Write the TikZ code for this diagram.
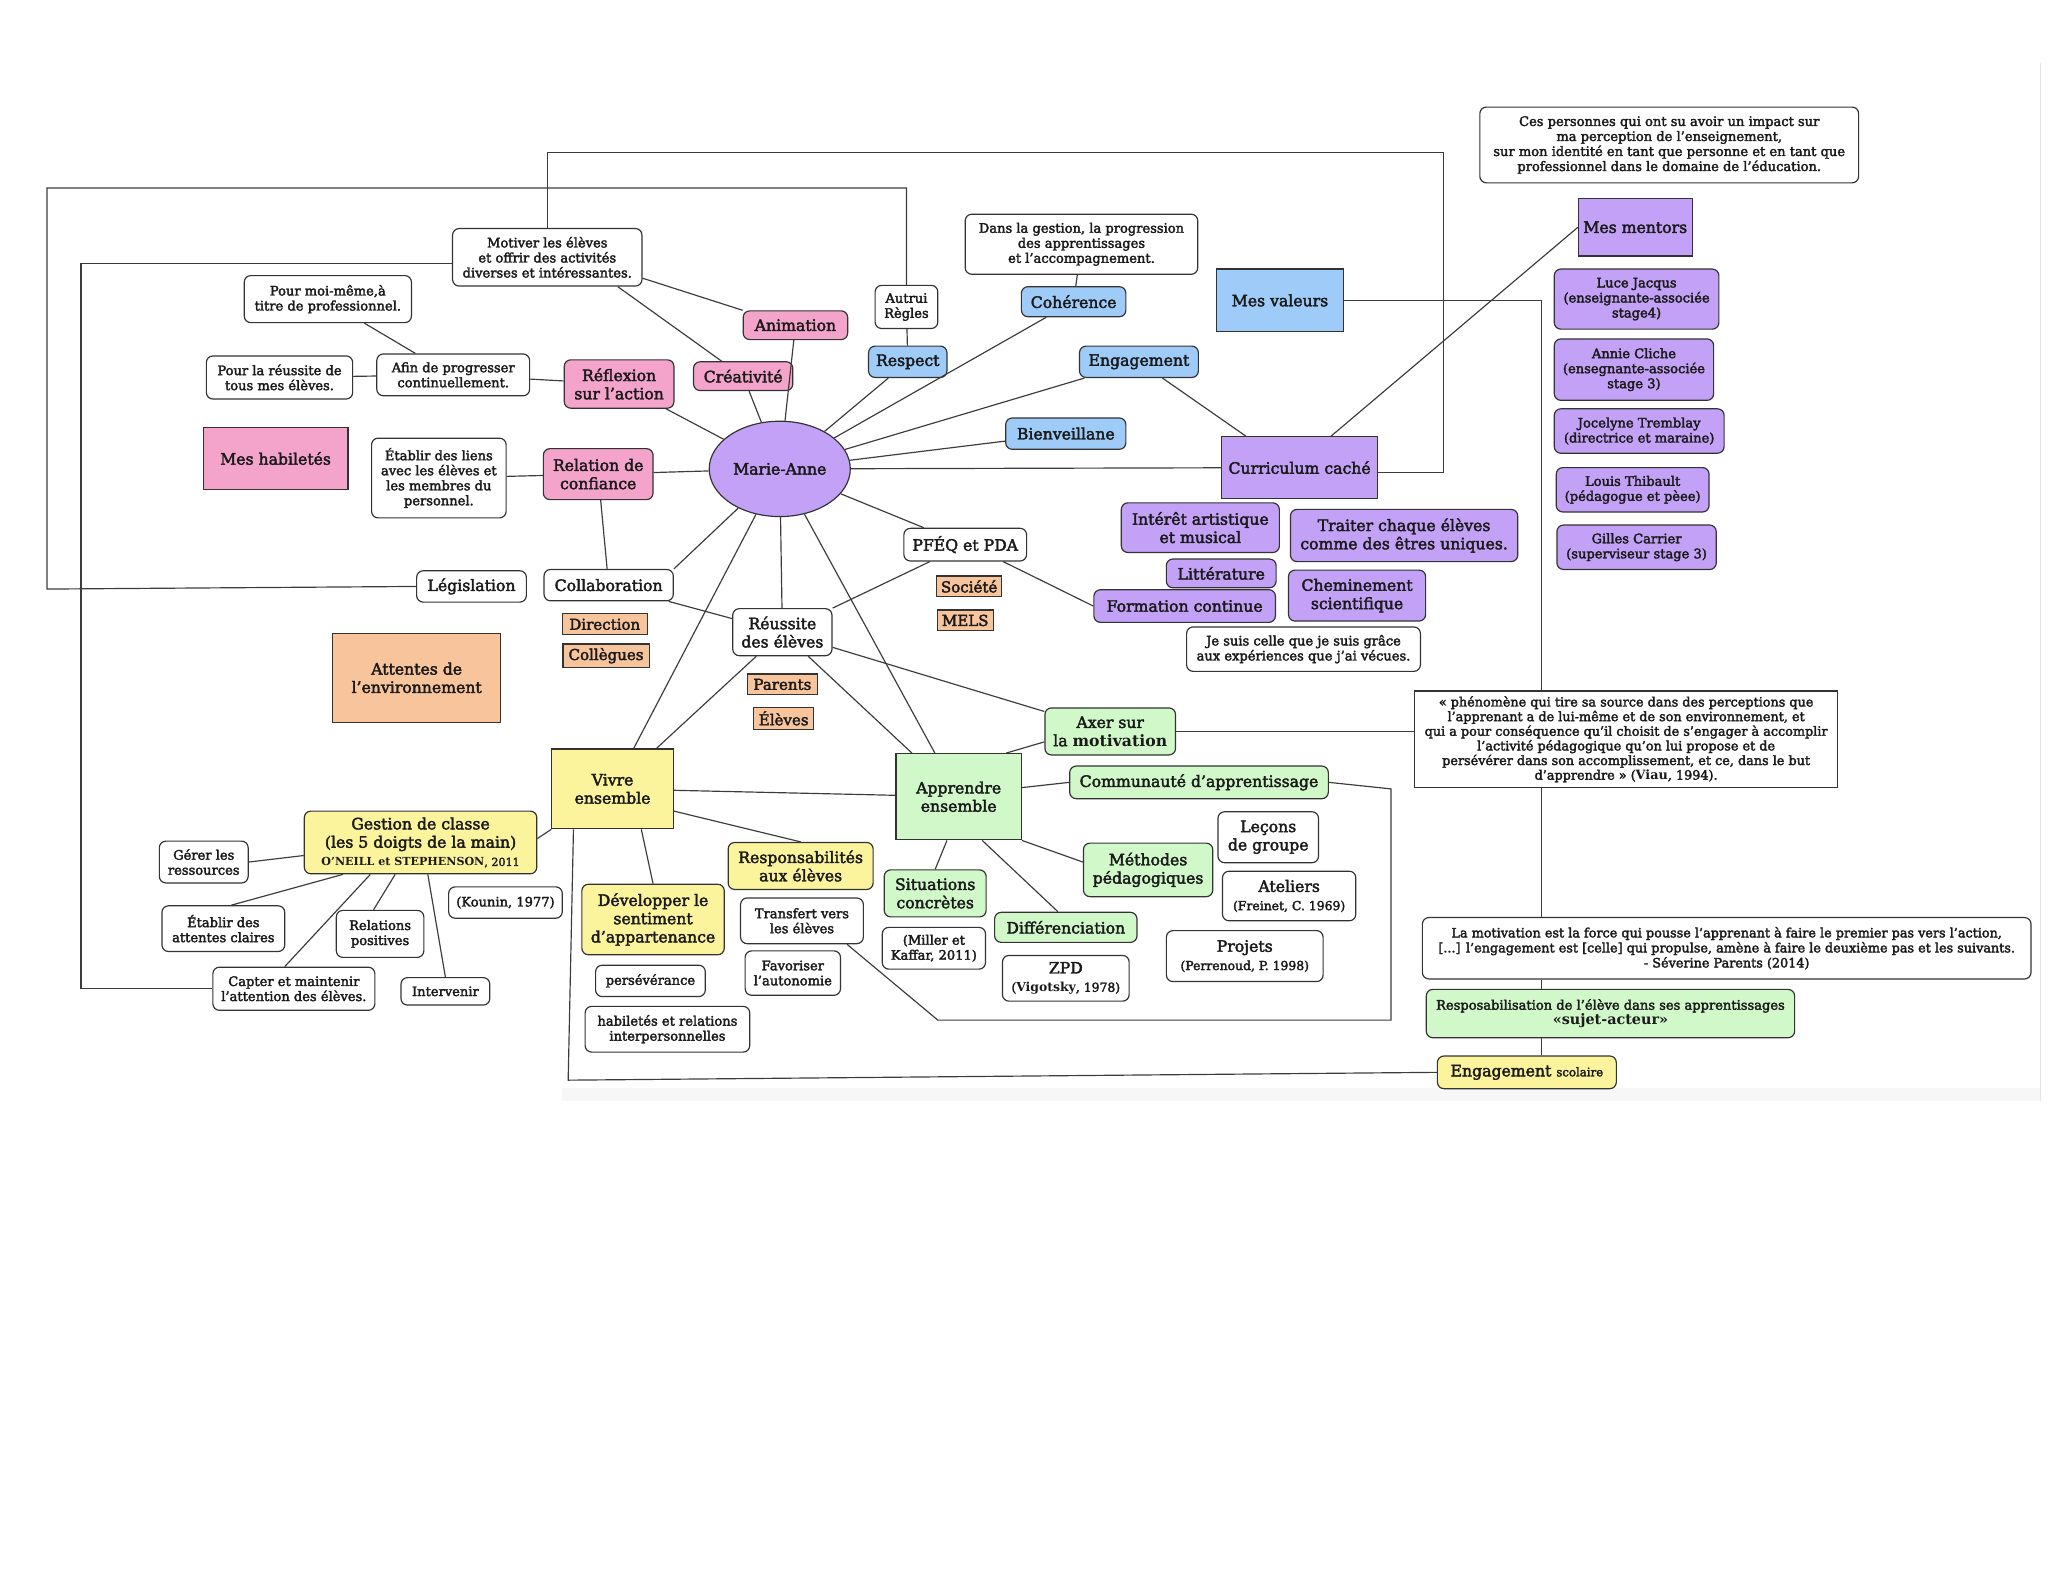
\documentclass[tikz,border=0pt]{standalone}
\usepackage{fontspec}
\setmainfont{DejaVu Serif}[UprightFeatures={FakeBold=2.5}]
\usetikzlibrary{shapes.geometric,calc}
\definecolor{pinkc}{HTML}{F4A4CA}
\definecolor{bluec}{HTML}{9ECBF8}
\definecolor{purc}{HTML}{C2A1F6}
\definecolor{orc}{HTML}{F8C49B}
\definecolor{yelc}{HTML}{FBF49C}
\definecolor{grnc}{HTML}{D0F8C9}
\definecolor{bdr}{HTML}{333333}
\definecolor{lnc}{HTML}{3C3C3C}
\definecolor{txt}{HTML}{1A1A1A}
\tikzset{
  box/.style={draw=bdr, line width=0.9pt, align=center, inner sep=1pt, text=txt},
  rbox/.style={box, rounded corners=5pt},
  fbig/.style={font=\fontsize{12}{14}\selectfont},
  fsm/.style={font=\fontsize{10}{11.5}\selectfont},
  forg/.style={font=\fontsize{11.5}{13}\selectfont},
  wh/.style={rbox, fill=white, fsm},
  whbig/.style={rbox, fill=white, fbig},
  pk/.style={rbox, fill=pinkc, fbig},
  bl/.style={rbox, fill=bluec, fbig},
  pu/.style={rbox, fill=purc, fbig},
  pusm/.style={rbox, fill=purc, fsm},
  ye/.style={rbox, fill=yelc, fbig},
  gr/.style={rbox, fill=grnc, fbig},
  org/.style={box, fill=orc, forg},
  sq/.style={box, fbig},
  sz/.style 2 args={minimum width=#1, minimum height=#2},
  conn/.style={draw=lnc, line width=0.9pt},
}
\begin{document}
\begin{tikzpicture}[x=1pt,y=-1pt]
\useasboundingbox (0,0) rectangle (1568,1212);
% page-edge artifacts of the source
\fill[black!3] (430,833) rectangle (1562,843);
\draw[black!10, line width=0.8pt] (1562,48) -- (1562,843);

% ---- pink
\node[pk, sz={80}{22}] (anim) at (609,249) {Animation};
\node[pk, sz={76}{22}] (crea) at (569,288) {Créativité};
\node[pk, sz={84}{37}] (refl) at (474,294) {Réflexion\\sur l'action};
\node[pk, sz={84}{39}] (rel) at (458,363) {Relation de\\confiance};
\node[sq, fill=pinkc, sz={111}{47}] (hab) at (211,351) {Mes habiletés};
\node[box, ellipse, fill=purc, fbig, sz={108}{73}] (ma) at (597,359) {Marie-Anne};
% ---- blue
\node[bl, sz={60}{24}] (resp) at (695,277) {Respect};
\node[bl, sz={80}{23}] (coh) at (822,231) {Cohérence};
\node[bl, sz={91}{24}] (eng) at (872,277) {Engagement};
\node[bl, sz={92}{24}] (bien) at (816,332) {Bienveillane};
\node[sq, fill=bluec, sz={97}{48}] (val) at (980,230) {Mes valeurs};
% ---- white (upper)
\node[wh, sz={145}{44}] (motiv) at (419,197) {Motiver les élèves\\et offrir des activités\\diverses et intéressantes.};
\node[wh, sz={128}{36}] (moi) at (251,229) {Pour moi-même,à\\titre de professionnel.};
\node[wh, sz={112}{33}] (pourr) at (214,289) {Pour la réussite de\\tous mes élèves.};
\node[wh, sz={117}{32}] (afin) at (347,287) {Afin de progresser\\continuellement.};
\node[wh, sz={103}{61}] (liens) at (336,366) {Établir des liens\\avec les élèves et\\les membres du\\personnel.};
\node[wh, sz={48}{33}] (autrui) at (694,235) {Autrui\\Règles};
\node[wh, sz={178}{46}] (dans) at (828,187) {Dans la gestion, la progression\\des apprentissages\\et l'accompagnement.};
\node[wh, sz={290}{58}] (ces) at (1278,111) {Ces personnes qui ont su avoir un impact sur\\ma perception de l'enseignement,\\sur mon identité en tant que personne et en tant que\\professionnel dans le domaine de l'éducation.};
\node[whbig, sz={84}{24}] (legis) at (361,449) {Législation};
\node[whbig, sz={99}{24}] (collab) at (466,448) {Collaboration};
\node[whbig, sz={76}{36}] (reuss) at (599,484) {Réussite\\des élèves};
\node[whbig, sz={94}{25}] (pfeq) at (739,417) {PFÉQ et PDA};
\node[wh, sz={179}{34}] (jesuis) at (998,497) {Je suis celle que je suis grâce\\aux expériences que j'ai vécues.};
% ---- orange
\node[org, sz={65}{16}] (dir) at (463,478) {Direction};
\node[org, sz={66}{18}] (coll) at (464,502) {Collègues};
\node[org, sz={54}{16}] (par) at (599,524) {Parents};
\node[org, sz={46}{17}] (elv) at (600,550) {Élèves};
\node[org, sz={50}{16}] (soc) at (742,449) {Société};
\node[org, sz={43}{16}] (mels) at (739,475) {MELS};
\node[sq, fill=orc, sz={129}{68}] (att) at (319,519) {Attentes de\\l'environnement};
% ---- purple
\node[sq, fill=purc, sz={119}{47}] (cc) at (995,358) {Curriculum caché};
\node[sq, fill=purc, sz={87}{44}] (ment) at (1252,174) {Mes mentors};
\node[pu, sz={121}{38}] (inter) at (919,404) {Intérêt artistique\\et musical};
\node[pu, sz={174}{40}] (trait) at (1075,410) {Traiter chaque élèves\\comme des êtres uniques.};
\node[pu, sz={84}{22}] (litt) at (935,439) {Littérature};
\node[pu, sz={139}{25}] (form) at (907,464) {Formation continue};
\node[pu, sz={105}{39}] (chem) at (1039,456) {Cheminement\\scientifique};
\node[pusm, sz={126}{46}] (luce) at (1253,229) {Luce Jacqus\\(enseignante-associée\\stage4)};
\node[pusm, sz={122}{47}] (annie) at (1251,283) {Annie Cliche\\(ensegnante-associée\\stage 3)};
\node[pusm, sz={130}{34}] (joce) at (1255,330) {Jocelyne Tremblay\\(directrice et maraine)};
\node[pusm, sz={117}{34}] (louis) at (1250,375) {Louis Thibault\\(pédagogue et pèee)};
\node[pusm, sz={122}{34}] (gilles) at (1253,419) {Gilles Carrier\\(superviseur stage 3)};
% ---- yellow
\node[sq, fill=yelc, sz={93}{61}] (vivre) at (469,604) {Vivre\\ensemble};
\node[ye, sz={178}{48}] (gest) at (322,645) {Gestion de classe\\(les 5 doigts de la main)\\\fontsize{8.5}{10}\selectfont\textbf{O'NEILL et STEPHENSON}, 2011};
\node[ye, sz={109}{54}] (dev) at (500,704) {Développer le\\sentiment\\d'appartenance};
\node[ye, sz={111}{36}] (respo) at (613,663) {Responsabilités\\aux élèves};
\node[ye, sz={137}{25}] (engs) at (1169,821) {Engagement {\fontsize{9}{10}\selectfont scolaire}};
% ---- green
\node[sq, fill=grnc, sz={96}{66}] (app) at (734,610) {Apprendre\\ensemble};
\node[gr, sz={100}{36}] (axer) at (850,560) {Axer sur\\la \textbf{motivation}};
\node[gr, sz={198}{25}] (comm) at (918,599) {Communauté d'apprentissage};
\node[gr, sz={78}{36}] (sit) at (716,684) {Situations\\concrètes};
\node[gr, sz={99}{41}] (meth) at (879,666) {Méthodes\\pédagogiques};
\node[gr, sz={109}{23}] (diff) at (816,710) {Différenciation};
\node[rbox, fill=grnc, fsm, sz={282}{37}] (respon) at (1233,776) {Resposabilisation de l'élève dans ses apprentissages\\\fontsize{11}{13}\selectfont\textbf{«sujet-acteur»}};
% ---- white (lower)
\node[wh, sz={68}{32}] (gerer) at (156,660) {Gérer les\\ressources};
\node[wh, sz={94}{35}] (etab) at (171,711) {Établir des\\attentes claires};
\node[wh, sz={67}{36}] (relp) at (291,715) {Relations\\positives};
\node[wh, sz={124}{33}] (capt) at (225,757) {Capter et maintenir\\l'attention des élèves.};
\node[wh, sz={68}{21}] (interv) at (341,759) {Intervenir};
\node[wh, sz={87}{24}] (koun) at (387,691) {(Kounin, 1977)};
\node[wh, sz={84}{24}] (perse) at (498,751) {persévérance};
\node[wh, sz={126}{35}] (habr) at (511,788) {habiletés et relations\\interpersonnelles};
\node[wh, sz={94}{35}] (transf) at (614,705) {Transfert vers\\les élèves};
\node[wh, sz={73}{34}] (favor) at (607,745) {Favoriser\\l'autonomie};
\node[wh, sz={79}{32}] (mill) at (715,726) {(Miller et\\Kaffar, 2011)};
\node[whbig, sz={97}{35}] (zpd) at (816,749) {ZPD\\\fontsize{9.5}{11}\selectfont(\textbf{Vigotsky}, 1978)};
\node[whbig, sz={77}{39}] (lecons) at (971,641) {Leçons\\de groupe};
\node[whbig, sz={102}{38}] (atel) at (987,686) {Ateliers\\\fontsize{9.5}{11}\selectfont(Freinet, C. 1969)};
\node[whbig, sz={120}{39}] (proj) at (953,732) {Projets\\\fontsize{9.5}{11}\selectfont(Perrenoud, P. 1998)};
\node[box, fill=white, font=\fontsize{9.8}{11.2}\selectfont, sz={324}{74}] (phen) at (1245,566) {« phénomène qui tire sa source dans des perceptions que\\l'apprenant a de lui-même et de son environnement, et\\qui a pour conséquence qu'il choisit de s'engager à accomplir\\l'activité pédagogique qu'on lui propose et de\\persévérer dans son accomplissement, et ce, dans le but\\d'apprendre » (\textbf{Viau}, 1994).};
\node[rbox, fill=white, font=\fontsize{9.8}{11.5}\selectfont, sz={466}{47}] (lamot) at (1322,726) {La motivation est la force qui pousse l'apprenant à faire le premier pas vers l'action,\\{[}...{]} l'engagement est {[}celle{]} qui propulse, amène à faire le deuxième pas et les suivants.\\- Séverine Parents (2014)};

% ---- connectors from Marie-Anne
\draw[conn] (ma) -- (anim);
\draw[conn] (ma) -- (crea);
\draw[conn] (ma) -- (refl);
\draw[conn] (ma) -- (rel);
\draw[conn] (ma) -- (resp);
\draw[conn] (ma) -- (coh);
\draw[conn] (ma) -- (eng);
\draw[conn] (ma) -- (bien);
\draw[conn] (ma) -- (cc);
\draw[conn] (ma) -- (pfeq);
\draw[conn] (ma) -- (reuss);
\draw[conn] (ma) -- (vivre);
\draw[conn] (ma) -- (app);
\draw[conn] (ma) -- (collab.north east);
% ---- others
\draw[conn] (rel) -- (collab);
\draw[conn] (collab) -- (reuss);
\draw[conn] (reuss) -- (vivre);
\draw[conn] (reuss) -- (app);
\draw[conn] (reuss) -- (axer);
\draw[conn] (pfeq) -- (reuss);
\draw[conn] ($(pfeq.south)+(29,0)$) -- (form.west);
\draw[conn] ($(app.north east)+(-12,0)$) -- ($(axer.west)+(0,8)$);
\draw[conn] ($(app.east)+(0,-7)$) -- (comm.west);
\draw[conn] ($(app.south)+(-9,0)$) -- (sit.north);
\draw[conn] ($(app.south)+(18,0)$) -- ($(diff.north)+(-6,0)$);
\draw[conn] (app.south east) -- ($(meth.west)+(0,-6)$);
\draw[conn] (vivre) -- (app);
\draw[conn] ($(vivre.east)+(0,17)$) -- (respo.north);
\draw[conn] ($(vivre.south)+(22,0)$) -- (dev.north);
\draw[conn] (vivre.south west) -- ($(gest.east)+(0,-3)$);
\draw[conn] ($(gest.west)+(0,10)$) -- (gerer.east);
\draw[conn] ($(gest.south west)+(30,0)$) -- ($(etab.north)+(6,0)$);
\draw[conn] ($(gest.south west)+(51,0)$) -- ($(capt.north)+(-7,0)$);
\draw[conn] ($(gest.south west)+(70,0)$) -- ($(relp.north)+(-5,0)$);
\draw[conn] ($(gest.south west)+(95,0)$) -- (interv.north);
\draw[conn] ($(motiv.east)+(0,16)$) -- (anim.north west);
\draw[conn] ($(motiv.south east)+(-19,0)$) -- ($(crea.north west)+(22,0)$);
\draw[conn] ($(afin.north)+(-29,0)$) -- ($(moi.south)+(28,0)$);
\draw[conn] (afin) -- (pourr);
\draw[conn] (afin) -- (refl);
\draw[conn] (liens) -- (rel);
\draw[conn] (resp) -- (autrui);
\draw[conn] (coh) -- (dans);
\draw[conn] ($(eng.south)+(18,0)$) -- ($(cc.north west)+(19,0)$);
\draw[conn] ($(cc.north east)+(-36,0)$) -- (ment.west);
% ---- long frame connectors
\draw[conn] (legis.west) -- (36,451) -- (36,144) -| (autrui.north);
\draw[conn] (motiv.north) |- (1105,117) |- ($(cc.east)+(0,4)$);
\draw[conn] ($(motiv.west)+(0,5)$) -| (62,757) -- (capt.west);
\coordinate (vx) at (1180,0);
\draw[conn] (val.east) -| (vx |- phen.north);
\draw[conn] (vx |- phen.south) -- (vx |- lamot.north);
\draw[conn] (vx |- lamot.south) -- (vx |- respon.north);
\draw[conn] (vx |- respon.south) -- (vx |- engs.north);
\draw[conn] (axer.east) -- (axer.east -| phen.west);
\draw[conn] (comm.east) -- (1065,604) -- (1065,781) -- (718,781) -- ($(transf.south east)+(-13,0)$);
\draw[conn] (engs.west) -- (435,827) -- ($(vivre.south west)+(17,0)$);
\end{tikzpicture}
\end{document}
